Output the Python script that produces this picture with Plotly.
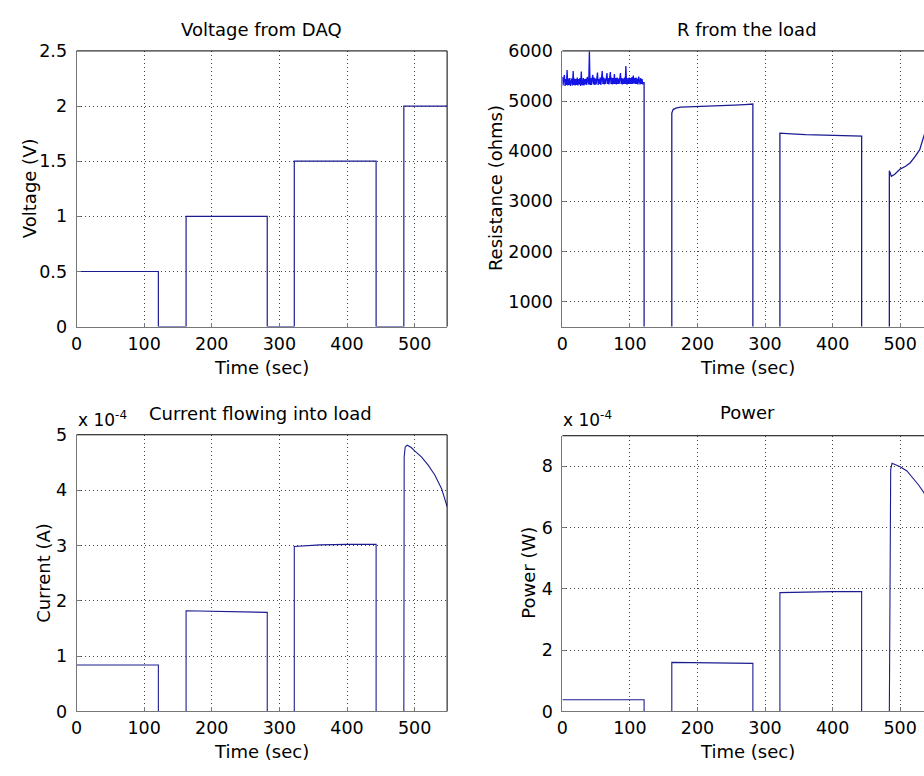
import plotly.graph_objects as go

# ---------------- data ----------------
# DAQ output voltage (step profile)
t_volt = [0, 121, 121, 162, 162, 282, 282, 322, 322, 443, 443, 484, 484, 548]
volt = [0.5, 0.5, 0, 0, 1.0, 1.0, 0, 0, 1.5, 1.5, 0, 0, 2.0, 2.0]

# Load resistance, first on-period sampled every second (t = 0..120)
res_on1 = [5480, 5310, 5450, 5520, 5300, 5440, 5320, 5620, 5310, 5450,
           5320, 5460, 5300, 5430, 5450, 5310, 5600, 5320, 5450, 5310,
           5440, 5320, 5470, 5310, 5440, 5330, 5460, 5300, 5590, 5330,
           5320, 5460, 5310, 5440, 5330, 5450, 5320, 5480, 5340, 5330,
           5990, 5320, 5460, 5320, 5440, 5520, 5330, 5470, 5320, 5450,
           5330, 5460, 5570, 5320, 5440, 5340, 5470, 5320, 5450, 5600,
           5340, 5470, 5330, 5450, 5340, 5480, 5560, 5340, 5460, 5330,
           5450, 5580, 5340, 5470, 5330, 5460, 5340, 5540, 5340, 5460,
           5330, 5470, 5340, 5450, 5340, 5480, 5560, 5340, 5460, 5330,
           5450, 5340, 5470, 5340, 5700, 5350, 5330, 5460, 5340, 5470,
           5340, 5460, 5340, 5480, 5340, 5510, 5350, 5460, 5340, 5470,
           5340, 5450, 5330, 5490, 5350, 5330, 5460, 5340, 5440, 5330,
           5380]
t_res_on1 = list(range(len(res_on1)))

# Remaining resistance record (off periods read as 0 ohms)
t_res_rest = [121, 121, 162, 162, 164, 168, 175, 190, 200, 215, 230, 240,
              255, 270, 282, 282, 322, 322, 330, 345, 360, 380, 400, 420,
              443, 443, 484, 484, 487, 492, 500, 508, 515, 522, 529, 535, 548]
res_rest = [5380, 0, 0, 4760, 4830, 4860, 4880, 4885, 4890, 4900, 4905, 4910,
            4920, 4930, 4940, 0, 0, 4360, 4350, 4340, 4330, 4320, 4315, 4310,
            4300, 0, 0, 3610, 3500, 3540, 3643, 3700, 3771, 3890, 4031, 4300, 4750]

# Current into the load (A)
t_cur = [0, 121, 121, 162, 162, 200, 240, 282, 282, 322, 322, 360, 400, 443,
         443, 484, 484, 484.5, 486, 489, 495, 500, 510, 520, 530, 540, 548]
cur = [0.84e-4, 0.84e-4, 0, 0, 1.82e-4, 1.81e-4, 1.80e-4, 1.79e-4, 0, 0,
       2.98e-4, 3.01e-4, 3.02e-4, 3.02e-4, 0, 0, 0, 4.60e-4, 4.78e-4, 4.81e-4,
       4.77e-4, 4.71e-4, 4.60e-4, 4.45e-4, 4.27e-4, 4.02e-4, 3.70e-4]

# Power delivered to the load (W)
t_pow = [0, 121, 121, 162, 162, 200, 240, 282, 282, 322, 322, 360, 400, 443,
         443, 484, 484, 486, 488, 494, 500, 510, 519, 527, 535, 548]
pow_w = [0.38e-4, 0.38e-4, 0, 0, 1.60e-4, 1.59e-4, 1.58e-4, 1.57e-4, 0, 0,
         3.88e-4, 3.90e-4, 3.91e-4, 3.91e-4, 0, 0, 0, 7.90e-4, 8.10e-4, 8.05e-4,
         7.99e-4, 7.85e-4, 7.62e-4, 7.40e-4, 7.15e-4, 6.40e-4]

x_ticks = [0, 100, 200, 300, 400, 500]
volt_ticks = [0, 0.5, 1, 1.5, 2, 2.5]
volt_labels = ["0", "0.5", "1", "1.5", "2", "2.5"]
res_ticks = [1000, 2000, 3000, 4000, 5000, 6000]
cur_ticks = [0, 1e-4, 2e-4, 3e-4, 4e-4, 5e-4]
cur_labels = ["0", "1", "2", "3", "4", "5"]
pow_ticks = [0, 2e-4, 4e-4, 6e-4, 8e-4]
pow_labels = ["0", "2", "4", "6", "8"]

# ---------------- layout helpers ----------------
W, H = 924, 776
FONT = "DejaVu Sans"
LINE = "#1c1c92"


def px(x):
    return x / W


def py(y):
    return 1 - y / H


# pixel boxes of the four axes: (left, top, right, bottom)
boxes = {
    "v": (71, 42, 444, 325),
    "r": (560, 42, 924, 325),
    "i": (71, 436, 444, 720),
    "p": (560, 437, 924, 720),
}

fig = go.Figure()

fig.add_trace(go.Scatter(x=t_volt, y=volt, mode="lines",
                         line=dict(color=LINE, width=1.2), xaxis="x", yaxis="y"))
fig.add_trace(go.Scatter(x=t_res_on1, y=res_on1, mode="lines",
                         line=dict(color="#1414e6", width=1.3), xaxis="x2", yaxis="y2"))
fig.add_trace(go.Scatter(x=t_res_rest, y=res_rest, mode="lines",
                         line=dict(color=LINE, width=1.3), xaxis="x2", yaxis="y2"))
fig.add_trace(go.Scatter(x=t_cur, y=cur, mode="lines",
                         line=dict(color=LINE, width=1.1), xaxis="x3", yaxis="y3"))
fig.add_trace(go.Scatter(x=t_pow, y=pow_w, mode="lines",
                         line=dict(color=LINE, width=1.1), xaxis="x4", yaxis="y4"))

tickfont = dict(family=FONT, size=17.5, color="black")
common = dict(showgrid=True, gridcolor="#444444", griddash="1px,3px", gridwidth=1,
              zeroline=False, showline=True, linecolor="#777777", linewidth=1,
              ticks="inside", ticklen=4, tickcolor="#777777", tickfont=tickfont,
              mirror=False)

xr_left = [0, 548]
xr_right = [0, 535.3]

axes = [("v", "x", "y", xr_left, [0, 2.5], volt_ticks, volt_labels),
        ("r", "x2", "y2", xr_right, [500, 6000], res_ticks, [str(v) for v in res_ticks]),
        ("i", "x3", "y3", xr_left, [0, 5e-4], cur_ticks, cur_labels),
        ("p", "x4", "y4", xr_right, [0, 9e-4], pow_ticks, pow_labels)]

layout = {}
for key, xa, ya, xr, yr, yt, yl in axes:
    l, t, r, b = boxes[key]
    xname = "xaxis" + xa[1:]
    yname = "yaxis" + ya[1:]
    layout[xname] = dict(common, domain=[px(l), px(r)], range=xr, anchor=ya,
                         tickvals=x_ticks, ticktext=[str(v) for v in x_ticks],
                         ticklabelstandoff=1)
    layout[yname] = dict(common, domain=[py(b), py(t)], range=yr, anchor=xa,
                         tickvals=yt, ticktext=yl, ticklabelstandoff=5)

fig.update_layout(**layout)

# black box edges on top (and right where the axes fit on the page)
shapes = []
for key in boxes:
    l, t, r, b = boxes[key]
    shapes.append(dict(type="line", xref="paper", yref="paper",
                       x0=px(l), x1=px(r), y0=py(t), y1=py(t),
                       line=dict(color="black", width=1)))
    if r < W:
        shapes.append(dict(type="line", xref="paper", yref="paper",
                           x0=px(r), x1=px(r), y0=py(t), y1=py(b),
                           line=dict(color="black", width=1)))

labfont = dict(family=FONT, size=18, color="black")
ann = []


def text(x, y, s, angle=0, font=labfont, xanchor="center", yanchor="middle"):
    ann.append(dict(text=s, x=px(x), y=py(y), xref="paper", yref="paper",
                    showarrow=False, textangle=angle, font=font,
                    xanchor=xanchor, yanchor=yanchor))


# panel titles
text(257, 20, "Voltage from DAQ")
text(746, 20, "R from the load")
text(256, 414, "Current flowing into load")
text(746, 413, "Power")
# x-axis titles
text(257, 367, "Time (sec)")
text(746, 367, "Time (sec)")
text(257, 761, "Time (sec)")
text(746, 761, "Time (sec)")
# y-axis titles
text(23, 183, "Voltage (V)", angle=-90)
text(492, 183, "Resistance (ohms)", angle=-90)
text(37, 578, "Current (A)", angle=-90)
text(526, 578, "Power (W)", angle=-90)
# exponent markers
expfont = dict(family=FONT, size=17, color="black")
text(70, 420, "x 10<sup>-4</sup>", font=expfont, xanchor="left")
text(559, 420, "x 10<sup>-4</sup>", font=expfont, xanchor="left")

fig.update_layout(width=W, height=H, margin=dict(l=0, r=0, t=0, b=0),
                  paper_bgcolor="white", plot_bgcolor="white",
                  showlegend=False, shapes=shapes, annotations=ann)

fig.write_html("out.html")
